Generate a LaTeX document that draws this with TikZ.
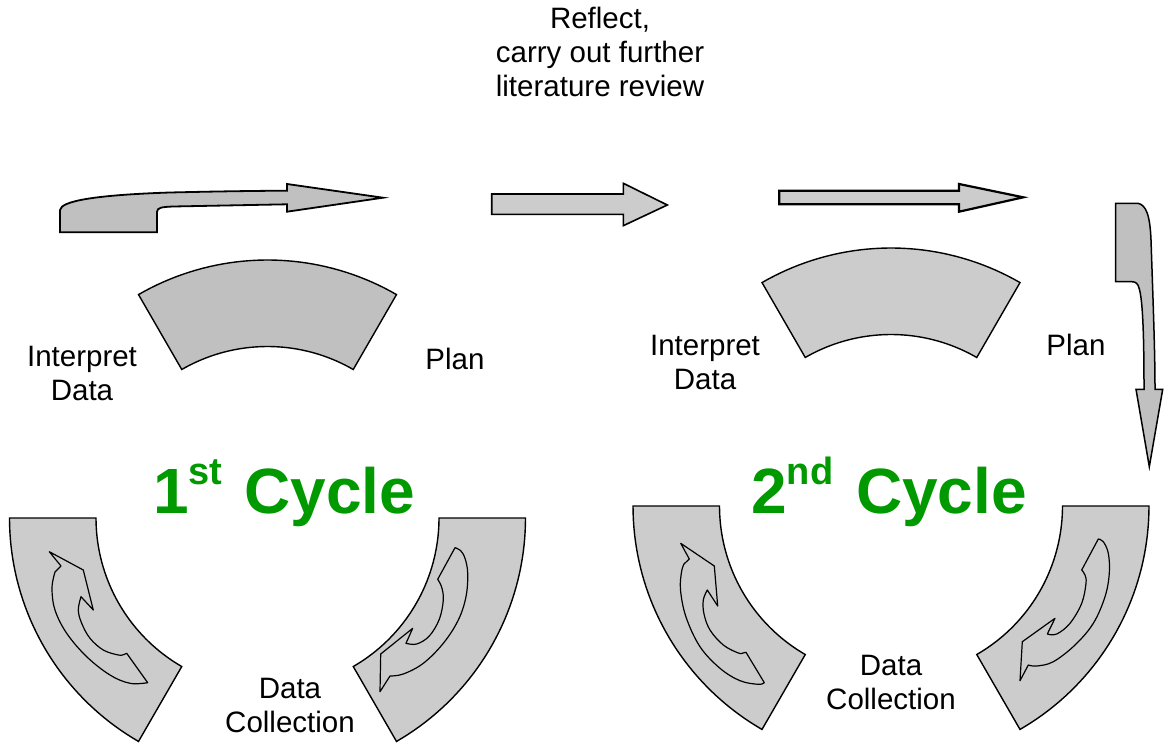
\documentclass[tikz,border=0pt]{standalone}
\usepackage{fontspec}
\setmainfont{Liberation Sans}
\definecolor{gdark}{RGB}{192,192,192}
\definecolor{glight}{RGB}{204,204,204}
\definecolor{cyclegreen}{RGB}{0,153,0}
\tikzset{
  shp/.style={draw=black, line width=1.4pt, line join=miter},
  curvarrow/.style={draw=black, line width=1.2pt, line join=round},
  lbl/.style={align=center, inner sep=0pt, font=\fontsize{29.5}{34}\selectfont},
  cyc/.style={inner sep=0pt, anchor=base west, text=cyclegreen, font=\fontsize{64}{70}\selectfont\bfseries},
}
\begin{document}
\begin{tikzpicture}[x=1pt,y=-1pt]
\useasboundingbox (0,0) rectangle (1164,744);

% ---------- sectors, 1st cycle (centre 267.5,518) ----------
\path[shp,fill=gdark] plot[domain=60:120, samples=40] ({267.5+258*cos(\x)},{518-258*sin(\x)})
   -- plot[domain=120:60, samples=40] ({267.5+171.5*cos(\x)},{518-171.5*sin(\x)}) -- cycle;
\path[shp,fill=glight] plot[domain=180:240, samples=40] ({267.5+258*cos(\x)},{518-258*sin(\x)})
   -- plot[domain=240:180, samples=40] ({267.5+171.5*cos(\x)},{518-171.5*sin(\x)}) -- cycle;
\path[shp,fill=glight] plot[domain=300:360, samples=40] ({267.5+258*cos(\x)},{518-258*sin(\x)})
   -- plot[domain=360:300, samples=40] ({267.5+171.5*cos(\x)},{518-171.5*sin(\x)}) -- cycle;

% ---------- sectors, 2nd cycle (centre 891,506) ----------
\path[shp,fill=glight] plot[domain=60:120, samples=40] ({891+258*cos(\x)},{506-258*sin(\x)})
   -- plot[domain=120:60, samples=40] ({891+171.5*cos(\x)},{506-171.5*sin(\x)}) -- cycle;
\path[shp,fill=glight] plot[domain=180:240, samples=40] ({891+258*cos(\x)},{506-258*sin(\x)})
   -- plot[domain=240:180, samples=40] ({891+171.5*cos(\x)},{506-171.5*sin(\x)}) -- cycle;
\path[shp,fill=glight] plot[domain=300:360, samples=40] ({891+258*cos(\x)},{506-258*sin(\x)})
   -- plot[domain=360:300, samples=40] ({891+171.5*cos(\x)},{506-171.5*sin(\x)}) -- cycle;

% ---------- curved arrows inside bottom sectors ----------
% 1st, left
\path[curvarrow] (49.3,551.7) -- (83.3,570) -- (93.3,610) -- (81,596.7)
  -- plot[smooth, tension=0.6] coordinates {(81,596.7) (78.3,610) (81.7,623.3) (90,638.3) (103.3,650) (118.3,655) (124,654.5)}
  -- (126.7,653.3) -- (147.7,682.7)
  -- plot[smooth, tension=0.6] coordinates {(147.7,682.7) (130,683.3) (110,675) (86.7,656.7) (66.7,633.3) (55,610) (52,588) (55,572)}
  -- (61,566) -- cycle;
% 1st, right
\path[curvarrow] (455,547.7)
  -- plot[smooth, tension=0.6] coordinates {(455,547.7) (460.5,550.5) (465,558.3) (467.7,573.3) (466,596.7) (458.3,620) (443.3,643.3) (423.3,663.3) (403.3,674) (390,676)}
  -- (380,691.7) -- (380.7,654) -- (412.7,628.3) -- (406,643.3)
  -- plot[smooth, tension=0.6] coordinates {(406,643.3) (416.7,644) (429.3,636) (439.3,619.3) (443.3,600) (441.7,587.3) (437.7,579.3)}
  -- cycle;
% 2nd, left
\path[curvarrow] (680.7,543.3) -- (714.3,566) -- (717.7,606) -- (707.3,590)
  -- plot[smooth, tension=0.6] coordinates {(707.3,590) (703.3,600) (704,614) (710,630) (723.3,645) (738.3,653) (743,653)}
  -- (746,652.3) -- (764.3,682.7)
  -- plot[smooth, tension=0.6] coordinates {(764.3,682.7) (758.3,684.3) (740,680.7) (720,668.3) (700,646.7) (686,617) (680.5,590) (681.5,572) (684,564)}
  -- (689.3,559) -- cycle;
% 2nd, right
\path[curvarrow] (1098.3,539)
  -- plot[smooth, tension=0.6] coordinates {(1098.3,539) (1103.3,541.7) (1108.3,553.3) (1109.3,573.3) (1105,596.7) (1093.3,623.3) (1075,645) (1053.3,661.7) (1036.7,666) (1028.3,665)}
  -- (1020,680.7) -- (1022.3,641.7) -- (1055,618.3) -- (1047.3,634)
  -- plot[smooth, tension=0.6] coordinates {(1047.3,634) (1056.7,634) (1070,623.3) (1081.7,603.3) (1086,583.3) (1085,575) (1081.7,570)}
  -- cycle;

% ---------- top arrows ----------
\path[shp, line width=1.8pt, fill=gdark] (60,232.3) -- (60,210)
  .. controls (61,201) and (95,195) .. (170,192.5)
  .. controls (220,191.3) and (260,190.8) .. (287,190.7)
  -- (287,184) -- (383,197.7) -- (287,211.7) -- (287,204.3) -- (173,206.5)
  .. controls (162,207) and (157,207.5) .. (157,212) -- (157,232.3) -- cycle;
\path[shp, line width=1.6pt, fill=glight] (491.7,194) -- (623.3,194) -- (623.3,183.3) -- (667.3,205)
  -- (623.3,225.7) -- (623.3,214.3) -- (491.7,214.3) -- cycle;
\path[shp, line width=2.2pt, fill=glight] (779.3,190.7) -- (959,190.7) -- (959,184) -- (1023.3,197.3)
  -- (959,211.7) -- (959,204.3) -- (779.3,204.3) -- cycle;
\path[shp, line width=1.5pt, fill=gdark] (1115.7,203.3) -- (1138,203.3)
  .. controls (1146,205) and (1150,215) .. (1151,240)
  .. controls (1153,300) and (1155,350) .. (1155,389.3)
  -- (1162.7,389.3) -- (1149.3,466.7) -- (1136,389.3) -- (1144,389.3)
  .. controls (1144,340) and (1143,300) .. (1139,288)
  .. controls (1138,284) and (1136,281.7) .. (1132,281.7)
  -- (1115.7,281.7) -- cycle;

% ---------- texts ----------
\node[lbl] (reflect) at (600,52) {Reflect,\\carry out further\\literature review};
\node[lbl] (interp1) at (82,373) {Interpret\\Data};
\node[lbl] (plan1) at (455,359) {Plan};
\node[lbl] (data1) at (290,705) {Data\\Collection};
\node[lbl] (interp2) at (705,362) {Interpret\\Data};
\node[lbl] (plan2) at (1076,345) {Plan};
\node[lbl] (data2) at (891,682) {Data\\Collection};
\node[cyc] (cyc1) at (153,513) {1\raisebox{29pt}{\fontsize{38}{40}\selectfont st}\hspace{4pt} Cycle};
\node[cyc] (cyc2) at (751,513) {2\raisebox{29pt}{\fontsize{38}{40}\selectfont nd}\hspace{5pt} Cycle};
\end{tikzpicture}
\end{document}
